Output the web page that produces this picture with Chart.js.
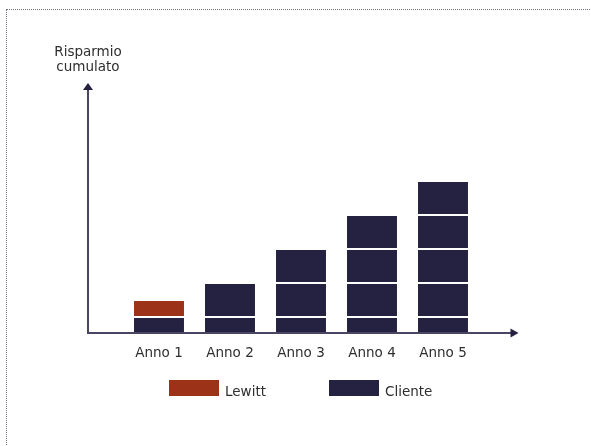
<!DOCTYPE html>
<html>
<head>
<meta charset="utf-8">
<script src="https://cdn.jsdelivr.net/npm/chart.js@4/dist/chart.umd.min.js"></script>
<style>
  html, body { margin: 0; padding: 0; background: #fff; overflow: hidden; }
  #wrap { position: relative; width: 591px; height: 446px; }
  #frame { position: absolute; left: 6px; top: 9px; width: 620px; height: 500px;
           border: 1px dotted #75718a; pointer-events: none; }
</style>
</head>
<body>
<div id="wrap">
  <canvas id="chart" width="591" height="446"></canvas>
  <div id="frame"></div>
</div>
<script>
  // categories and stacked segments (one block per year)
  const years = ["Anno 1", "Anno 2", "Anno 3", "Anno 4", "Anno 5"];
  const clienteSeg1 = [0.5, 0.5, 0.5, 0.5, 0.5];
  const lewittSeg = [0.5, null, null, null, null];
  const clienteSeg2 = [null, 1, 1, 1, 1];
  const clienteSeg3 = [null, null, 1, 1, 1];
  const clienteSeg4 = [null, null, null, 1, 1];
  const clienteSeg5 = [null, null, null, null, 1];
  const yMax = 7.3;

  const navy = "#252140";
  const red = "#9c3218";
  const font = "DejaVu Sans";

  function seg(label, data, color) {
    return {
      label: label,
      data: data,
      backgroundColor: color,
      borderColor: "#ffffff",
      borderWidth: { top: 2, bottom: 0, left: 0, right: 0 },
      borderSkipped: false,
      barPercentage: 0.704,
      categoryPercentage: 1
    };
  }

  // axes with arrow heads, y title and the legend
  const decor = {
    id: "decor",
    afterDatasetsDraw(chart) {
      const ctx = chart.ctx;
      const area = chart.chartArea;
      const x = chart.scales.x;
      const ox = x.getPixelForValue(-1);
      const oy = area.bottom;
      const tipX = area.right + 40;
      const tipY = area.top - 2;
      ctx.save();
      ctx.strokeStyle = "#4a4563";
      ctx.fillStyle = navy;
      ctx.lineWidth = 2;
      ctx.beginPath();
      ctx.moveTo(ox, oy);
      ctx.lineTo(tipX - 6, oy);
      ctx.moveTo(ox, oy + 1);
      ctx.lineTo(ox, tipY + 6);
      ctx.stroke();
      ctx.beginPath();
      ctx.moveTo(tipX, oy);
      ctx.lineTo(tipX - 8, oy - 4.5);
      ctx.lineTo(tipX - 8, oy + 4.5);
      ctx.closePath();
      ctx.fill();
      ctx.beginPath();
      ctx.moveTo(ox, tipY);
      ctx.lineTo(ox - 5, tipY + 7);
      ctx.lineTo(ox + 5, tipY + 7);
      ctx.closePath();
      ctx.fill();

      ctx.fillStyle = "#2e2e2e";
      ctx.font = "13.5px '" + font + "'";
      ctx.textAlign = "center";
      ctx.textBaseline = "alphabetic";
      ctx.fillText("Risparmio", ox, area.top - 29);
      ctx.fillText("cumulato", ox, area.top - 14);

      // legend
      const items = [];
      chart.data.datasets.forEach(d => {
        if (!items.find(i => i.label === d.label)) items.push({ label: d.label, color: d.backgroundColor });
      });
      items.sort((a, b) => (a.label === "Lewitt" ? -1 : 1));
      const cx = (area.left + area.right) / 2;
      let lx = cx - 132;
      const ly = area.bottom + 47;
      ctx.textAlign = "left";
      items.forEach(it => {
        ctx.fillStyle = it.color;
        ctx.fillRect(lx, ly, 50, 16);
        ctx.fillStyle = "#2e2e2e";
        ctx.fillText(it.label, lx + 56, ly + 16);
        lx += 160;
      });
      ctx.restore();
    }
  };

  new Chart(document.getElementById("chart"), {
    type: "bar",
    data: {
      labels: years,
      datasets: [
        seg("Cliente", clienteSeg1, navy),
        seg("Lewitt", lewittSeg, red),
        seg("Cliente", clienteSeg2, navy),
        seg("Cliente", clienteSeg3, navy),
        seg("Cliente", clienteSeg4, navy),
        seg("Cliente", clienteSeg5, navy)
      ]
    },
    options: {
      responsive: false,
      animation: false,
      layout: { padding: { left: 123.5, right: 112.5, top: 85, bottom: 72.8 } },
      plugins: {
        legend: { display: false },
        tooltip: { enabled: false }
      },
      scales: {
        x: {
          stacked: true,
          grid: { display: false, drawTicks: false },
          border: { display: false },
          ticks: { color: "#2e2e2e", padding: 12, font: { family: font, size: 13.5 } }
        },
        y: {
          stacked: true,
          display: false,
          min: 0,
          max: yMax
        }
      }
    },
    plugins: [decor]
  });
</script>
</body>
</html>
